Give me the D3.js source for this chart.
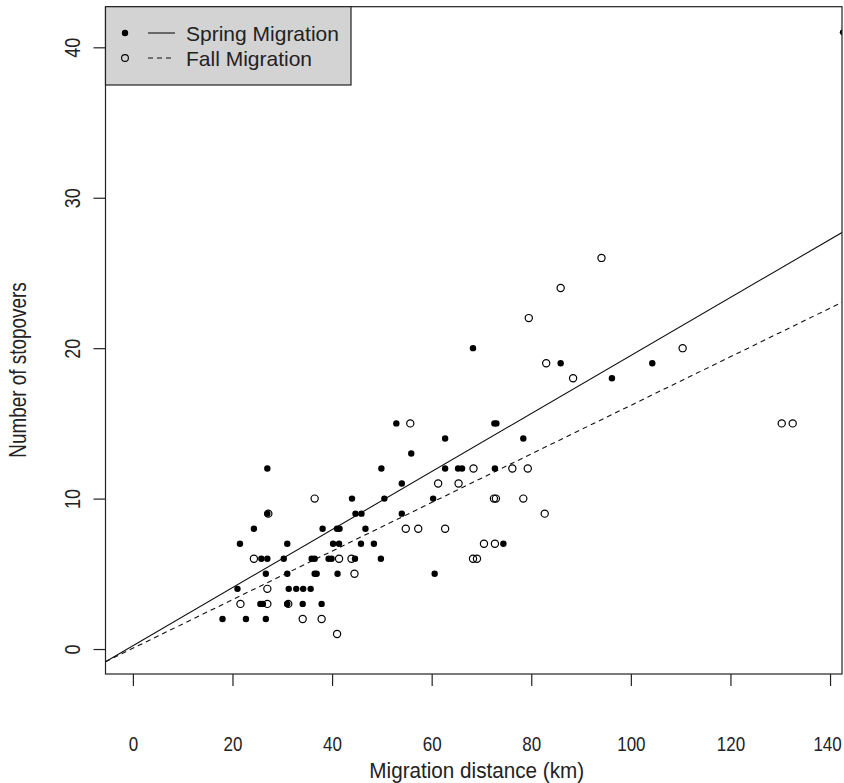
<!DOCTYPE html>
<html>
<head>
<meta charset="utf-8">
<script src="https://cdn.jsdelivr.net/npm/d3@7/dist/d3.min.js"></script>
<style>
  html, body { margin: 0; padding: 0; background: #fff; }
  svg { display: block; }
  text { font-family: "Liberation Sans", Arial, sans-serif; fill: #222; }
</style>
</head>
<body>
<svg id="chart" width="844" height="783"></svg>
<script>
// ---- data ----
const springX = [142.6, 68.3, 85.9, 104.3, 96.2, 52.9, 72.6, 73.0, 62.7, 78.4, 55.9,
  27.0, 49.9, 62.7, 65.3, 66.1, 72.7, 54.0, 44.0, 50.5, 60.3,
  27.0, 44.7, 45.9, 54.0, 24.3, 38.1, 41.0, 41.5, 46.7,
  21.5, 31.0, 40.2, 41.4, 45.8, 48.4, 74.4,
  25.8, 27.0, 30.3, 35.9, 36.5, 39.3, 39.9, 44.6, 49.8,
  26.7, 31.0, 36.5, 36.9, 41.1, 60.6,
  21.0, 31.3, 32.8, 34.2, 35.7,
  25.6, 26.1, 31.0, 34.1, 37.9,
  18.0, 22.7, 26.7];
const springY = [41, 20, 19, 19, 18, 15, 15, 15, 14, 14, 13,
  12, 12, 12, 12, 12, 12, 11, 10, 10, 10,
  9, 9, 9, 9, 8, 8, 8, 8, 8,
  7, 7, 7, 7, 7, 7, 7,
  6, 6, 6, 6, 6, 6, 6, 6, 6,
  5, 5, 5, 5, 5, 5,
  4, 4, 4, 4, 4,
  3, 3, 3, 3, 3,
  2, 2, 2];
const fallX = [94.1, 85.9, 79.5, 110.4, 83.0, 88.4, 55.7, 130.3, 132.5,
  68.4, 76.2, 79.3, 61.3, 65.4, 36.5, 72.5, 72.9, 78.4,
  27.2, 82.7, 54.8, 57.3, 62.7, 70.5, 72.7,
  24.3, 41.4, 43.9, 68.3, 69.1, 44.5, 27.0,
  21.6, 27.0, 31.2, 34.1, 37.9, 41.0];
const fallY = [26, 24, 22, 20, 19, 18, 15, 15, 15,
  12, 12, 12, 11, 11, 10, 10, 10, 10,
  9, 9, 8, 8, 8, 7, 7,
  6, 6, 6, 6, 6, 5, 4,
  3, 3, 3, 2, 2, 1];
const seriesNames = ["Spring Migration", "Fall Migration"];
const lineIntercepts = [0.22, 0.05];
const lineSlopes = [0.1929, 0.1615];
const xTicks = [0, 20, 40, 60, 80, 100, 120, 140];
const yTicks = [0, 10, 20, 30, 40];
const xTitle = "Migration distance (km)";
const yTitle = "Number of stopovers";

// ---- layout ----
const svg = d3.select("#chart");
const L = 105.5, R = 842, T = 6.7, B = 674;
const x = d3.scaleLinear().domain([-5.5, 142.4]).range([L, R]);
const y = d3.scaleLinear().domain([-1.66, 42.7]).range([B, T]);
const font = "Liberation Sans, Arial, sans-serif";

svg.append("defs").append("clipPath").attr("id", "plotclip")
  .append("rect").attr("x", L).attr("y", T).attr("width", R - L).attr("height", B - T);

const plot = svg.append("g").attr("clip-path", "url(#plotclip)");

// regression lines
const dashes = [null, "5,4"];
[0, 1].forEach(i => {
  const x0 = x.domain()[0], x1 = x.domain()[1];
  plot.append("line")
    .attr("x1", x(x0)).attr("y1", y(lineIntercepts[i] + lineSlopes[i] * x0))
    .attr("x2", x(x1)).attr("y2", y(lineIntercepts[i] + lineSlopes[i] * x1))
    .attr("stroke", "#111").attr("stroke-width", 1.1)
    .attr("stroke-dasharray", dashes[i]);
});

// points
plot.selectAll("circle.fall").data(fallX.map((v, i) => [v, fallY[i]])).enter()
  .append("circle").attr("class", "fall")
  .attr("cx", d => x(d[0])).attr("cy", d => y(d[1])).attr("r", 3.6)
  .attr("fill", "none").attr("stroke", "#000").attr("stroke-width", 1.2);
plot.selectAll("circle.spring").data(springX.map((v, i) => [v, springY[i]])).enter()
  .append("circle").attr("class", "spring")
  .attr("cx", d => x(d[0])).attr("cy", d => y(d[1])).attr("r", 3.2)
  .attr("fill", "#000");

// box
svg.append("rect").attr("x", L).attr("y", T).attr("width", R - L).attr("height", B - T)
  .attr("fill", "none").attr("stroke", "#222").attr("stroke-width", 1.2);

// x axis
const xAxis = d3.axisBottom(x).tickValues(xTicks).tickSize(12).tickPadding(0).tickSizeOuter(0);
const gx = svg.append("g").attr("transform", `translate(0,${B})`).call(xAxis);
gx.select(".domain").remove();
gx.selectAll(".tick line").attr("stroke", "#222").attr("stroke-width", 1.2);
gx.selectAll(".tick text").attr("font-size", 20).attr("font-family", font).attr("fill", "#222")
  .attr("y", 0).attr("dy", null)
  .attr("transform", d => `translate(${d === 140 ? -3 : 0},77) scale(0.85,1.05)`);

// y axis
const yAxis = d3.axisLeft(y).tickValues(yTicks).tickSize(12).tickPadding(8).tickSizeOuter(0);
const gy = svg.append("g").attr("transform", `translate(${L},0)`).call(yAxis);
gy.select(".domain").remove();
gy.selectAll(".tick line").attr("stroke", "#222").attr("stroke-width", 1.2);
gy.selectAll(".tick text").attr("font-size", 20).attr("font-family", font).attr("fill", "#222")
  .attr("text-anchor", "middle").attr("dy", null)
  .attr("x", 0).attr("y", 0)
  .attr("transform", `translate(-26,0) rotate(-90) scale(0.9,1.12)`);

// titles
svg.append("text").attr("transform", `translate(${(L + R) / 2 + 3},778) scale(0.94,1)`)
  .attr("text-anchor", "middle").attr("font-size", 22).text(xTitle);
svg.append("text").attr("transform", `translate(26,370) rotate(-90) scale(0.9,1.12)`)
  .attr("text-anchor", "middle").attr("font-size", 21).text(yTitle);

// legend
const lg = svg.append("g");
lg.append("rect").attr("x", L).attr("y", T).attr("width", 351 - L).attr("height", 85 - T)
  .attr("fill", "#d3d3d3").attr("stroke", "#222").attr("stroke-width", 1.2);
const rowsY = [33, 58];
[0, 1].forEach(i => {
  if (i === 0) lg.append("circle").attr("cx", 125).attr("cy", rowsY[i]).attr("r", 3.2).attr("fill", "#000");
  else lg.append("circle").attr("cx", 125).attr("cy", rowsY[i]).attr("r", 3.4)
    .attr("fill", "none").attr("stroke", "#000").attr("stroke-width", 1.1);
  lg.append("line").attr("x1", 148).attr("x2", 175).attr("y1", rowsY[i]).attr("y2", rowsY[i])
    .attr("stroke", "#111").attr("stroke-width", 1.1).attr("stroke-dasharray", dashes[i]);
  lg.append("text").attr("x", 186).attr("y", rowsY[i] + 7.5)
    .attr("font-size", 21).text(seriesNames[i]);
});
</script>
</body>
</html>
